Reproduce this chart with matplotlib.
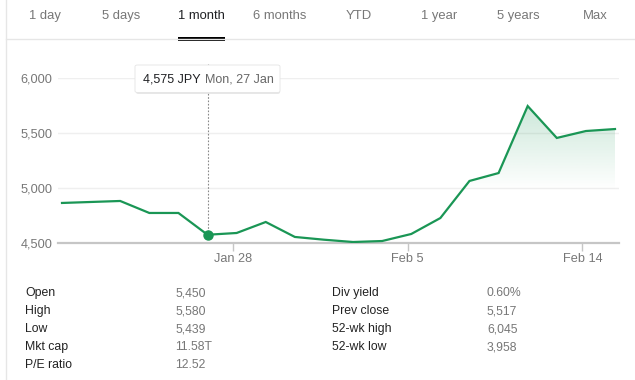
import numpy as np
import matplotlib
matplotlib.use("Agg")
from matplotlib import pyplot as plt
from matplotlib.patches import FancyBboxPatch, Rectangle
from matplotlib.lines import Line2D

plt.rcParams['font.family'] = ['Liberation Sans', 'DejaVu Sans']

# Data (x = trading-day index)
dias = [0, 2, 3, 4, 5, 6, 7, 8, 9, 10, 11, 12, 13, 14, 15, 16, 17, 18, 19]
precos = [4864, 4882, 4773, 4773, 4575, 4591, 4691, 4555, 4530, 4509,
          4518, 4582, 4727, 5064, 5136, 5745, 5455, 5518, 5536]
ticks_x = [6, 12, 18]
ticks_lbl = ['Jan 28', 'Feb 5', 'Feb 14']
y_ticks = [4500, 5000, 5500, 6000]
abas = ['1 day', '5 days', '1 month', '6 months', 'YTD', '1 year', '5 years', 'Max']
aba_ativa = '1 month'
ponto_idx = 4  # Mon, 27 Jan
tooltip_preco = '4,575 JPY'
tooltip_data = 'Mon, 27 Jan'
stats_esq = [('Open', '5,450'), ('High', '5,580'), ('Low', '5,439'),
             ('Mkt cap', '11.58T'), ('P/E ratio', '12.52')]
stats_dir = [('Div yield', '0.60%'), ('Prev close', '5,517'),
             ('52-wk high', '6,045'), ('52-wk low', '3,958')]

W, H = 635, 380
verde = '#1a9655'
cinza = '#777777'

def fx(x):
    return x / W

def fy(y):
    return 1 - y / H

fig = plt.figure(figsize=(6.35, 3.8), dpi=100)

# Borda esquerda e separador das abas
fig.add_artist(Line2D([fx(5.5), fx(5.5)], [0, 1], color='#e6e6e6', lw=1))
fig.add_artist(Line2D([fx(5.5), 1], [fy(39), fy(39)], color='#e6e6e6', lw=1))

centros = [45, 121, 201, 280, 359, 439, 518, 595]
for nome, cx in zip(abas, centros):
    ativo = nome == aba_ativa
    fig.text(fx(cx), fy(16), nome, ha='center', va='center', fontsize=9.4,
             color='#202124' if ativo else cinza)
    if ativo:
        fig.add_artist(Rectangle((fx(178), fy(40.5)), fx(225) - fx(178), 3 / H,
                                 color='black', lw=0))

# Gráfico
x0, x1 = 58, 619
ax = fig.add_axes([fx(x0), fy(243), fx(x1) - fx(x0), (243 - 78) / H])
ax.set_xlim(-(62 - 58) / 29.1, 19 + (619 - 615) / 29.1)
ax.set_ylim(4500, 6000)
for s in ax.spines.values():
    s.set_visible(False)
for v in y_ticks[1:]:
    ax.axhline(v, color='#efefef', lw=1, zorder=0)
ax.axhline(y_ticks[0], color='#c6c6c6', lw=1.6, zorder=1, clip_on=False)

ax.set_yticks(y_ticks)
ax.set_yticklabels([f'{v:,}' for v in y_ticks])
ax.tick_params(axis='y', length=0, pad=4, labelsize=9.2, labelcolor=cinza)
ax.set_xticks([t - 0.12 for t in ticks_x])
ax.set_xticklabels(ticks_lbl)
ax.tick_params(axis='x', length=6, width=1, color='#c6c6c6', pad=1,
               labelsize=9.2, labelcolor=cinza)

# Preenchimento em gradiente
poly = ax.fill_between(dias, precos, 4500, color='none', lw=0)
topo = max(precos)
ys = np.linspace(4500, topo, 200)
alpha = np.clip((ys - 4980) / (topo - 4980), 0, 1) * 0.22
grad = np.zeros((200, 1, 4))
grad[:, 0, 0] = 0x1a / 255
grad[:, 0, 1] = 0x96 / 255
grad[:, 0, 2] = 0x55 / 255
grad[:, 0, 3] = alpha
img = ax.imshow(grad, aspect='auto', origin='lower',
                extent=[dias[0], dias[-1], 4500, topo], zorder=1)
img.set_clip_path(poly.get_paths()[0], transform=ax.transData)
ax.set_xlim(-(62 - 58) / 29.1, 19 + (619 - 615) / 29.1)
ax.set_ylim(4500, 6000)

ax.plot(dias, precos, color=verde, lw=1.6, zorder=3, solid_joinstyle='miter')
ax.plot(dias[ponto_idx], precos[ponto_idx], 'o', color=verde, ms=6.5, zorder=4)

# Linha pontilhada até o tooltip
ax.plot([dias[ponto_idx]] * 2, [precos[ponto_idx], 6125], color='#888888',
        lw=0.8, ls=(0, (1.5, 1.5)), zorder=2, clip_on=False)

# Tooltip
sombra = FancyBboxPatch((fx(136), fy(94)), fx(280) - fx(136), (94 - 66) / H,
                        boxstyle='round,pad=0,rounding_size=0.004',
                        transform=fig.transFigure, fc='#d8d8d8', ec='none',
                        alpha=0.6, zorder=5)
caixa = FancyBboxPatch((fx(135), fy(92.5)), fx(280) - fx(135), (92.5 - 65) / H,
                       boxstyle='round,pad=0,rounding_size=0.004',
                       transform=fig.transFigure, fc='white', ec='#e4e4e4',
                       lw=0.6, zorder=6)
fig.add_artist(sombra)
fig.add_artist(caixa)
fig.text(fx(143), fy(79), tooltip_preco, ha='left', va='center', fontsize=9,
         color='#202124', zorder=7)
fig.text(fx(205), fy(79), tooltip_data, ha='left', va='center', fontsize=9,
         color='#666666', zorder=7)

# Tabela de estatísticas
linhas_y = [293, 311, 329, 347, 365]
for (rot, val), y in zip(stats_esq, linhas_y):
    fig.text(fx(25), fy(y), rot, ha='left', va='center', fontsize=8.8, color='#222222')
    fig.text(fx(175), fy(y), val, ha='left', va='center', fontsize=8.8, color=cinza)
for (rot, val), y in zip(stats_dir, linhas_y):
    fig.text(fx(332), fy(y), rot, ha='left', va='center', fontsize=8.8, color='#222222')
    fig.text(fx(487), fy(y), val, ha='left', va='center', fontsize=8.8, color=cinza)

fig.savefig('out.png', dpi=100, facecolor='white')
